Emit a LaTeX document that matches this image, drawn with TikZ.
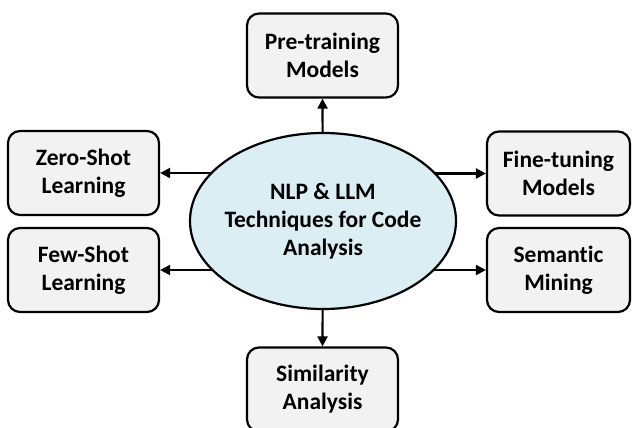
\documentclass[tikz,border=0pt]{standalone}
\usepackage{fontspec}
\setmainfont{Carlito}[Ligatures=NoCommon]
\usetikzlibrary{shapes.geometric,arrows.meta,backgrounds}
\definecolor{boxfill}{HTML}{F2F2F2}
\definecolor{ellfill}{HTML}{DAEEF3}
\tikzset{
  topic/.style={draw=black, line width=2.2pt, fill=boxfill, rounded corners=12pt,
    minimum width=151pt, minimum height=84pt, inner sep=0pt, align=center,
    font=\fontsize{23.5}{28}\selectfont\bfseries},
  hub/.style={draw=black, line width=2.2pt, fill=ellfill, ellipse,
    minimum width=266pt, minimum height=176pt, inner sep=0pt, align=center,
    font=\fontsize{23.5}{28}\selectfont\bfseries},
  arr/.style={draw=black, line width=2.2pt, -{Triangle[length=10pt,width=10pt]}}
}
\begin{document}
\begin{tikzpicture}[x=1pt,y=1pt]
\useasboundingbox (0,0) rectangle (632,-428);
\node[hub] (hub) at (323,-221) {\makebox[0pt]{NLP \& LLM}\\\makebox[0pt]{Techniques for Code}\\\makebox[0pt]{Analysis}};
\node[topic] (pre) at (322.5,-55.5) {Pre-training\\Models};
\node[topic] (zero) at (83.5,-173) {Zero-Shot\\Learning};
\node[topic] (few) at (83.5,-270) {Few-Shot\\Learning};
\node[topic, minimum width=143pt] (fine) at (558.5,-173.5) {Fine-tuning\\Models};
\node[topic, minimum width=143pt] (sem) at (558.5,-270) {Semantic\\Mining};
\node[topic] (sim) at (322.5,-389.5) {Similarity\\Analysis};
\begin{scope}[on background layer]
\draw[arr] (hub.center) -- (pre.south);
\draw[arr] (hub.center) -- (sim.north);
\draw[arr] (hub.center |- zero.east) -- (zero.east);
\draw[arr] (hub.center |- few.east) -- (few.east);
\draw[arr] (hub.center |- fine.west) -- (fine.west);
\draw[arr] (hub.center |- sem.west) -- (sem.west);
\end{scope}
\end{tikzpicture}
\end{document}
